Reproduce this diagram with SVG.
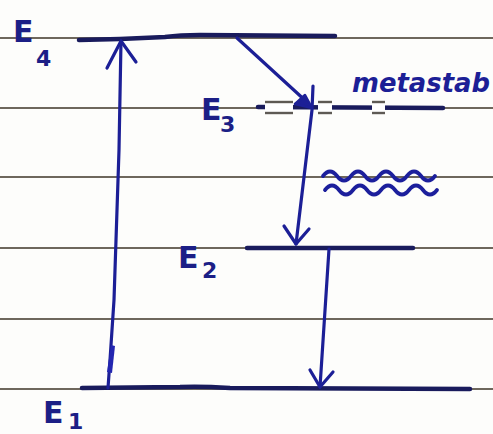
<svg xmlns="http://www.w3.org/2000/svg" width="493" height="434" viewBox="0 0 493 434">
<defs>
<style>
.rule{stroke:#6e675c;stroke-width:2;fill:none}
.level{stroke:#191b5c;stroke-width:4.5;fill:none;stroke-linecap:round}
.arr{stroke:#1c1f96;stroke-width:3.2;fill:none;stroke-linecap:round;stroke-linejoin:round}
.wave{stroke:#1c1f9c;stroke-width:3.8;fill:none;stroke-linecap:round}
.lbl{font-family:"DejaVu Sans",sans-serif;font-weight:bold;fill:#1c1f86}
.E{font-size:30px}
.sub{font-size:22px}
.gap{fill:#ffffff;stroke:none}
.gapl{stroke:#5e5a54;stroke-width:2.4}
</style>
</defs>
<rect width="493" height="434" fill="#fdfdfb"/>
<g id="ruled-lines">
<line class="rule" x1="0" y1="38" x2="493" y2="38"/>
<line class="rule" x1="0" y1="108" x2="493" y2="108"/>
<line class="rule" x1="0" y1="177" x2="493" y2="177"/>
<line class="rule" x1="0" y1="248" x2="493" y2="248"/>
<line class="rule" x1="0" y1="319" x2="493" y2="319"/>
<line class="rule" x1="0" y1="389" x2="493" y2="389"/>
</g>
<g id="E4">
<path class="level" d="M79,40 L120,39 L165,37 Q180,35 200,35 L335,36"/>
<text class="lbl E" x="13" y="42">E</text>
<text class="lbl sub" x="36" y="66">4</text>
</g>
<g id="E3">
<path class="level" d="M258,107 L443,108"/>
<g>
<rect class="gap" x="265" y="103" width="28" height="9"/>
<line class="gapl" x1="265" y1="102" x2="293" y2="102"/>
<line class="gapl" x1="265" y1="113" x2="293" y2="113"/>
<rect class="gap" x="318" y="103" width="14" height="9"/>
<line class="gapl" x1="318" y1="102" x2="332" y2="102"/>
<line class="gapl" x1="318" y1="113" x2="332" y2="113"/>
<rect class="gap" x="372" y="103" width="13" height="9"/>
<line class="gapl" x1="372" y1="102" x2="385" y2="102"/>
<line class="gapl" x1="372" y1="113" x2="385" y2="113"/>
</g>
<text class="lbl E" x="201" y="120">E</text>
<text class="lbl sub" x="220" y="132">3</text>
<text x="352" y="92" font-family="DejaVu Sans, sans-serif" font-style="italic" font-weight="bold" font-size="26" fill="#1c1f96" textLength="138" lengthAdjust="spacingAndGlyphs">metastab</text>
</g>
<g id="E2">
<path class="level" d="M247,248 L413,248"/>
<text class="lbl E" x="178" y="268">E</text>
<text class="lbl sub" x="202" y="278">2</text>
</g>
<g id="E1">
<path class="level" d="M82,388 L180,387 Q200,386 230,388 L470,389"/>
<text class="lbl E" x="43" y="423">E</text>
<text class="lbl sub" x="68" y="429" font-size="20">1</text>
</g>
<g id="connectors">
<path class="arr" d="M108,388 L110,360 L114,300 L119,150 L121,41"/>
<path d="M107,372 L111,345 L115,346 L112,373 Z" fill="#2326b0"/>
<path class="arr" d="M107,68 L121,41 L136,62"/>
<path class="arr" d="M237,38 L308,103"/>
<path d="M312,108 L295,104 L305,95 Z" fill="#1c1f96" stroke="#1c1f96" stroke-width="2.5" stroke-linejoin="round"/>
<path class="arr" d="M313,86 L312,110 L296,244"/>
<path class="arr" d="M284,226 L296,244 L309,229"/>
<path class="arr" d="M329,249 L320,387"/>
<path class="arr" d="M310,370 L320,387 L333,372"/>
<path class="wave" d="M323,176 q7,-9 14,0 t14,0 t14,0 t14,0 t14,0 t14,0 t14,0 t14,0"/>
<path class="wave" d="M325,190 q7,-9 14,0 t14,0 t14,0 t14,0 t14,0 t14,0 t14,0 t14,0"/>
</g>
</svg>
